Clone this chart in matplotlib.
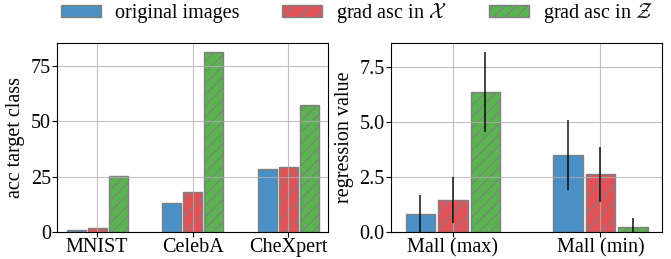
import numpy as np
import matplotlib
matplotlib.use('Agg')
import matplotlib.pyplot as plt

plt.rcParams['font.family'] = 'Liberation Serif'
plt.rcParams['mathtext.fontset'] = 'cm'
plt.rcParams['hatch.linewidth'] = 0.8

# classification datasets
cls_names = ['MNIST', 'CelebA', 'CheXpert']
cls_orig = [0.9, 13.2, 28.4]
cls_x = [1.8, 17.8, 29.4]
cls_z = [25.4, 81.1, 57.4]

# regression dataset
reg_names = ['Mall (max)', 'Mall (min)']
reg_orig = [0.82, 3.5]
reg_orig_err = [0.87, 1.6]
reg_x = [1.45, 2.62]
reg_x_err = [1.03, 1.25]
reg_z = [6.35, 0.24]
reg_z_err = [1.83, 0.41]

labels = ['original images', r'grad asc in $\mathcal{X}$', r'grad asc in $\mathcal{Z}$']
colors = ['#4a8fc6', '#e05257', '#59b450']
hatches = ['', '//', '///']
w = 0.2
off = 0.22

fig, (ax1, ax2) = plt.subplots(1, 2, figsize=(6.71, 2.59), dpi=100)

x = np.arange(len(cls_names))
for i, vals in enumerate([cls_orig, cls_x, cls_z]):
    ax1.bar(x + (i - 1) * off, vals, w, color=colors[i], edgecolor='#808080',
            linewidth=1, hatch=hatches[i], label=labels[i])
ax1.set_xticks(x)
ax1.set_xticklabels(cls_names)
ax1.set_yticks([0, 25, 50, 75])
ax1.set_xlim(-0.42, len(cls_names) - 1 + 0.42)
ax1.set_ylim(0, 85.5)
ax1.set_ylabel('acc target class', fontsize=14.5, labelpad=4)
ax1.grid(True, color='#b0b0b0', alpha=0.8)

x2 = np.arange(len(reg_names))
for i, (vals, err) in enumerate([(reg_orig, reg_orig_err), (reg_x, reg_x_err), (reg_z, reg_z_err)]):
    ax2.bar(x2 + (i - 1) * off, vals, w, yerr=err, color=colors[i], edgecolor='#808080',
            linewidth=1, hatch=hatches[i], error_kw=dict(ecolor='black', elinewidth=1.2, alpha=0.85))
ax2.set_xticks(x2)
ax2.set_xticklabels(reg_names)
ax2.set_yticks([0, 2.5, 5.0, 7.5])
ax2.set_xlim(-0.42, len(reg_names) - 1 + 0.42)
ax2.set_ylim(0, 8.6)
ax2.set_ylabel('regression value', fontsize=14.5, labelpad=4)
ax2.grid(True, color='#b0b0b0', alpha=0.8)

for ax in (ax1, ax2):
    ax.tick_params(labelsize=14.5, pad=1)

fig.legend(loc='upper center', ncol=3, frameon=False, bbox_to_anchor=(0.532, 1.065),
           handlelength=2.0, handleheight=0.5, handletextpad=0.7,
           columnspacing=2.1, fontsize=14.5)
fig.subplots_adjust(left=0.085, right=0.987, top=0.835, bottom=0.105, wspace=0.23)
fig.savefig('out.png', dpi=100)
